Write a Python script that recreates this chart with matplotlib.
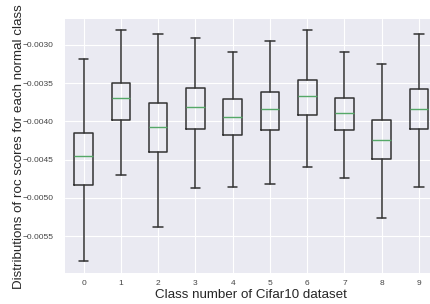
import matplotlib
matplotlib.use("Agg")
import matplotlib.pyplot as plt

plt.style.use("seaborn-v0_8-darkgrid")
plt.rcParams["font.family"] = ["Liberation Sans", "DejaVu Sans"]

classes = ["0", "1", "2", "3", "4", "5", "6", "7", "8", "9"]
whislo = [-0.005831, -0.004706, -0.005382, -0.004872, -0.004854,
          -0.004815, -0.004593, -0.004745, -0.005264, -0.004863]
q1 = [-0.004829, -0.003986, -0.004405, -0.004095, -0.004174,
      -0.004113, -0.003916, -0.004117, -0.004496, -0.004095]
med = [-0.004453, -0.003694, -0.004077, -0.003812, -0.003942,
       -0.003842, -0.003672, -0.003890, -0.004239, -0.003842]
q3 = [-0.004152, -0.003493, -0.003755, -0.003567, -0.003703,
      -0.003619, -0.003458, -0.003694, -0.003986, -0.003580]
whishi = [-0.003179, -0.002808, -0.002856, -0.002904, -0.003087,
          -0.002944, -0.002808, -0.003087, -0.003253, -0.002860]

stats = []
for i in range(len(classes)):
    stats.append(dict(label=classes[i], whislo=whislo[i], q1=q1[i], med=med[i],
                      q3=q3[i], whishi=whishi[i], fliers=[]))

fig = plt.figure(figsize=(4.31, 3.04), dpi=100)
ax = fig.add_axes([65 / 431, 31.3 / 304, 372.6 / 431, 253.7 / 304])

ax.bxp(stats, showfliers=False,
       boxprops=dict(color="#333333", linewidth=1.1),
       whiskerprops=dict(color="#333333", linewidth=1.1),
       capprops=dict(color="#333333", linewidth=1.1),
       medianprops=dict(color="#55A868", linewidth=1.0))

ax.set_ylim(-0.005980, -0.002660)
ax.set_xlim(0.5, 10.5)
ax.set_yticks([-0.0055, -0.0050, -0.0045, -0.0040, -0.0035, -0.0030])
ax.set_yticklabels(["\u22120.0055", "\u22120.0050", "\u22120.0045",
                    "\u22120.0040", "\u22120.0035", "\u22120.0030"])
ax.tick_params(axis="x", labelsize=6, colors="#444444", pad=5.5)
ax.tick_params(axis="y", labelsize=6, colors="#444444", pad=8.5)

ax.set_xlabel("Class number of Cifar10 dataset", fontsize=9.6, labelpad=1.5)
ax.set_ylabel("Distributions of roc scores for each normal class", fontsize=9.6)
ax.yaxis.set_label_coords(-0.108, 0.497)

fig.savefig("out.png", dpi=100)
